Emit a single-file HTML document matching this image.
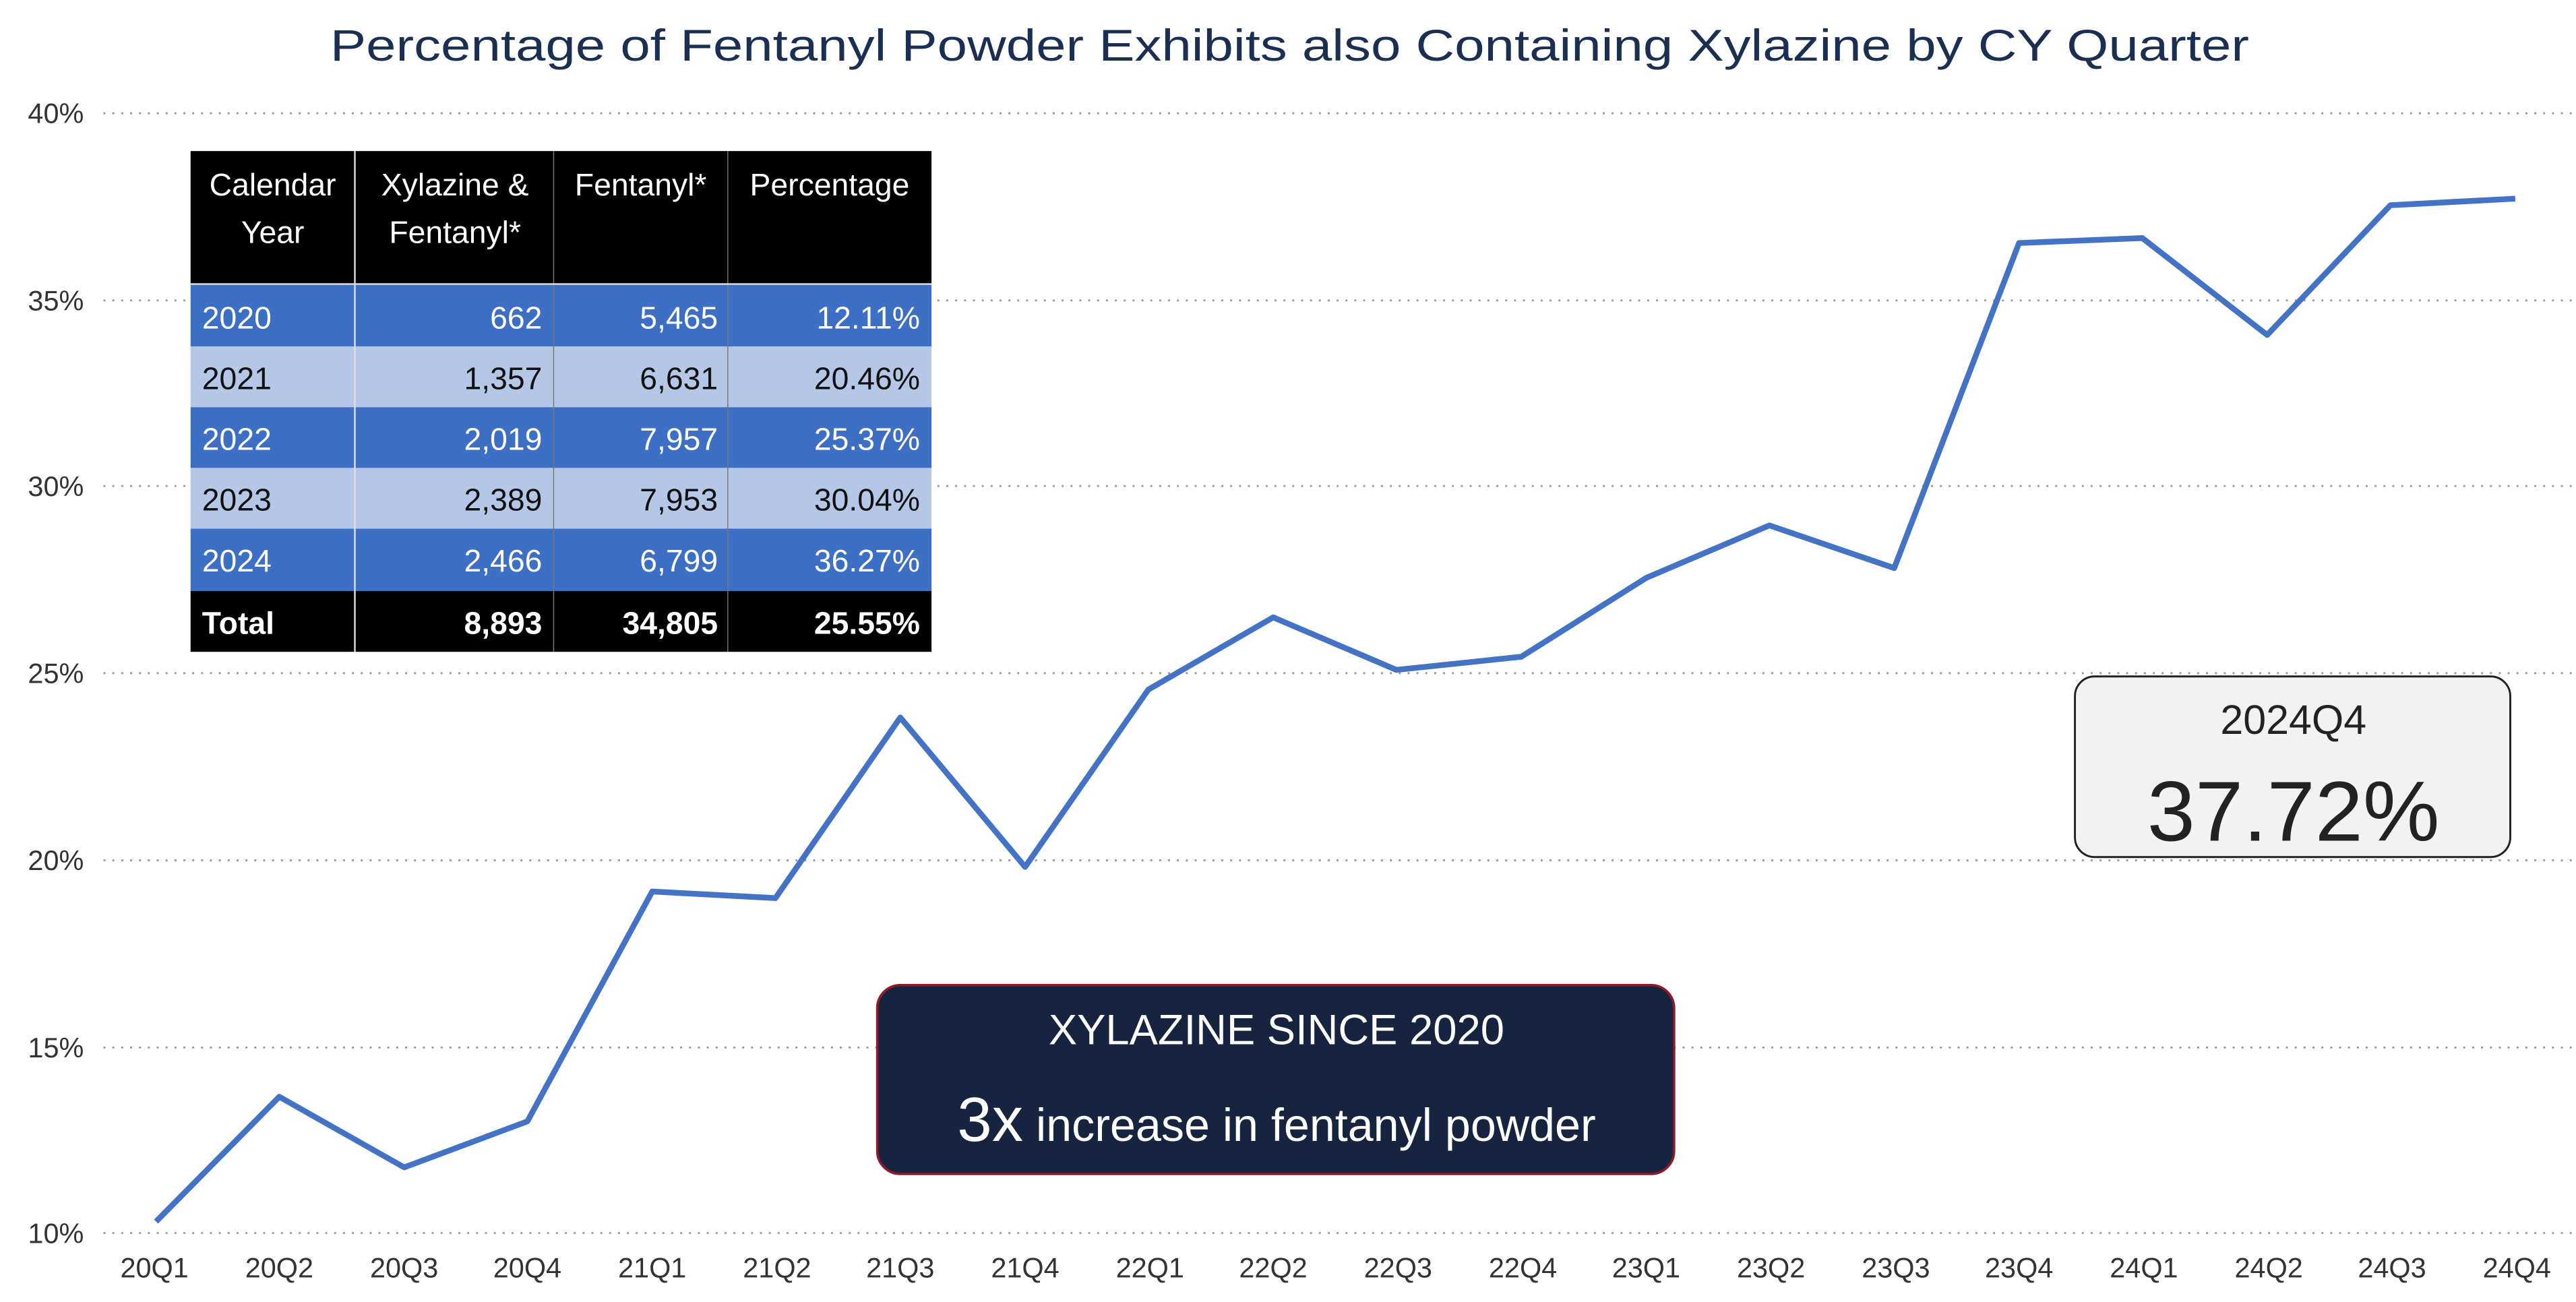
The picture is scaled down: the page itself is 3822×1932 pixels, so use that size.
<!DOCTYPE html>
<html><head><meta charset="utf-8"><style>
html,body{margin:0;padding:0;background:#fff;}
svg{display:block;}
text{font-family:"Liberation Sans",sans-serif;}
</style></head><body>
<svg width="3822" height="1932" viewBox="0 0 1568 793" preserveAspectRatio="none" xmlns="http://www.w3.org/2000/svg">
<rect width="1568" height="793" fill="#fff"/>
<text x="785" y="37" text-anchor="middle" font-size="27" fill="#1b2f52" textLength="1168" lengthAdjust="spacingAndGlyphs">Percentage of Fentanyl Powder Exhibits also Containing Xylazine by CY Quarter</text>
<g stroke="#9a9a9a" stroke-width="1.2" stroke-dasharray="1.2 4.2">
<line x1="63" y1="69" x2="1568" y2="69"/>
<line x1="63" y1="183" x2="1568" y2="183"/>
<line x1="63" y1="296" x2="1568" y2="296"/>
<line x1="63" y1="410" x2="1568" y2="410"/>
<line x1="63" y1="524" x2="1568" y2="524"/>
<line x1="63" y1="638" x2="1568" y2="638"/>
<line x1="63" y1="751" x2="1568" y2="751"/>
</g>
<g font-size="17" fill="#333" text-anchor="end">
<text x="51" y="75">40%</text><text x="51" y="189">35%</text><text x="51" y="302">30%</text>
<text x="51" y="416">25%</text><text x="51" y="530">20%</text><text x="51" y="644">15%</text><text x="51" y="757">10%</text>
</g>
<g font-size="17" fill="#333" text-anchor="middle">
<text x="94" y="778">20Q1</text><text x="170" y="778">20Q2</text><text x="246" y="778">20Q3</text><text x="321" y="778">20Q4</text>
<text x="397" y="778">21Q1</text><text x="473" y="778">21Q2</text><text x="548" y="778">21Q3</text><text x="624" y="778">21Q4</text>
<text x="700" y="778">22Q1</text><text x="775" y="778">22Q2</text><text x="851" y="778">22Q3</text><text x="927" y="778">22Q4</text>
<text x="1002" y="778">23Q1</text><text x="1078" y="778">23Q2</text><text x="1154" y="778">23Q3</text><text x="1229" y="778">23Q4</text>
<text x="1305" y="778">24Q1</text><text x="1381" y="778">24Q2</text><text x="1456" y="778">24Q3</text><text x="1532" y="778">24Q4</text>
</g>
<polyline fill="none" stroke="#4472c4" stroke-width="3.5" stroke-linejoin="round" points="95,744 170,668 246,711 321,683 397,543 472,547 548,437 624,528 699,420 775,376 850,408 926,400 1002,352 1077,320 1153,346 1229,148 1304,145 1380,204 1455,125 1531,121"/>
<!-- table -->
<rect x="116" y="92" width="451" height="81" fill="#000"/>
<rect x="116" y="173" width="451" height="38" fill="#3d70c5"/>
<rect x="116" y="211" width="451" height="37" fill="#b4c7e7"/>
<rect x="116" y="248" width="451" height="37" fill="#3d70c5"/>
<rect x="116" y="285" width="451" height="37" fill="#b4c7e7"/>
<rect x="116" y="322" width="451" height="38" fill="#3d70c5"/>
<rect x="116" y="360" width="451" height="37" fill="#000"/>
<g stroke="#ddd" stroke-width="1"><line x1="216" y1="92" x2="216" y2="397"/></g>
<g stroke="#777" stroke-width="0.6"><line x1="337" y1="92" x2="337" y2="397"/><line x1="443" y1="92" x2="443" y2="397"/></g>
<line x1="116" y1="173" x2="567" y2="173" stroke="#ddd" stroke-width="1"/>
<g font-size="19" fill="#fff">
<text x="166" y="119" text-anchor="middle">Calendar</text><text x="166" y="148" text-anchor="middle">Year</text>
<text x="277" y="119" text-anchor="middle">Xylazine &amp;</text><text x="277" y="148" text-anchor="middle">Fentanyl*</text>
<text x="390" y="119" text-anchor="middle">Fentanyl*</text>
<text x="505" y="119" text-anchor="middle">Percentage</text>
</g>
<g font-size="19">
<g fill="#fff"><text x="123" y="200">2020</text><text x="330" y="200" text-anchor="end">662</text><text x="437" y="200" text-anchor="end">5,465</text><text x="560" y="200" text-anchor="end">12.11%</text></g>
<g fill="#111"><text x="123" y="237">2021</text><text x="330" y="237" text-anchor="end">1,357</text><text x="437" y="237" text-anchor="end">6,631</text><text x="560" y="237" text-anchor="end">20.46%</text></g>
<g fill="#fff"><text x="123" y="274">2022</text><text x="330" y="274" text-anchor="end">2,019</text><text x="437" y="274" text-anchor="end">7,957</text><text x="560" y="274" text-anchor="end">25.37%</text></g>
<g fill="#111"><text x="123" y="311">2023</text><text x="330" y="311" text-anchor="end">2,389</text><text x="437" y="311" text-anchor="end">7,953</text><text x="560" y="311" text-anchor="end">30.04%</text></g>
<g fill="#fff"><text x="123" y="348">2024</text><text x="330" y="348" text-anchor="end">2,466</text><text x="437" y="348" text-anchor="end">6,799</text><text x="560" y="348" text-anchor="end">36.27%</text></g>
<g fill="#fff" font-weight="bold"><text x="123" y="386">Total</text><text x="330" y="386" text-anchor="end">8,893</text><text x="437" y="386" text-anchor="end">34,805</text><text x="560" y="386" text-anchor="end">25.55%</text></g>
</g>
<!-- KPI card -->
<rect x="1263" y="412" width="265" height="110" rx="12" fill="#f2f2f2" stroke="#222" stroke-width="1.2"/>
<text x="1396" y="447" text-anchor="middle" font-size="25" fill="#222">2024Q4</text>
<text x="1396" y="512" text-anchor="middle" font-size="52" fill="#222" textLength="178" lengthAdjust="spacingAndGlyphs">37.72%</text>
<!-- callout -->
<rect x="534" y="600" width="485" height="115" rx="14" fill="#172440" stroke="#8b1a2a" stroke-width="1.5"/>
<text x="777" y="636" text-anchor="middle" font-size="26" fill="#fff">XYLAZINE SINCE 2020</text>
<text x="777" y="695" text-anchor="middle" fill="#fff"><tspan font-size="38">3x</tspan><tspan font-size="28"> increase in fentanyl powder</tspan></text>
</svg>
</body></html>
